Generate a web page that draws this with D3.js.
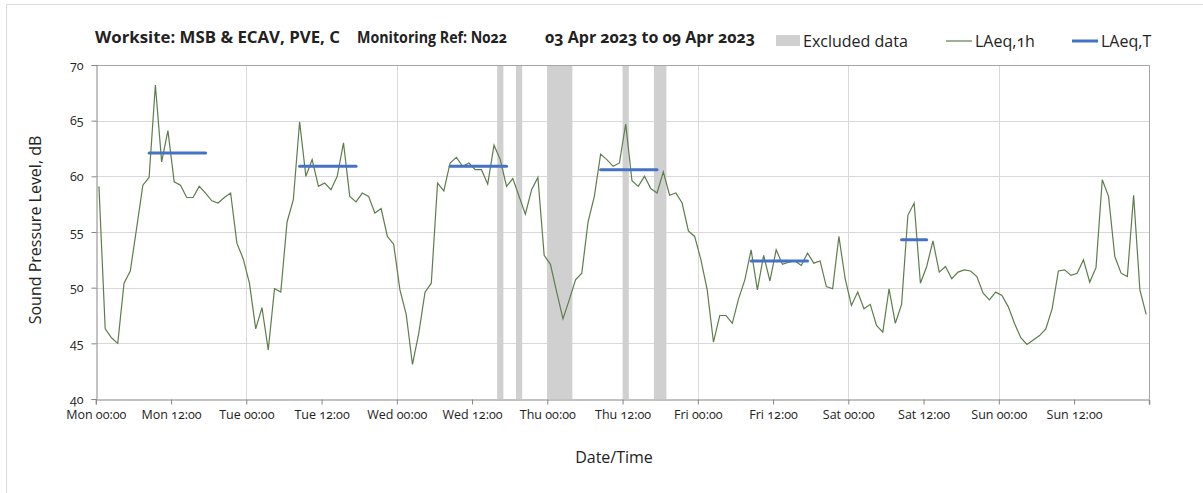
<!DOCTYPE html>
<html>
<head>
<meta charset="utf-8">
<script src="https://cdn.jsdelivr.net/npm/d3@7"></script>
<style>
  body { margin: 0; background: #fff; }
  svg text { font-family: "Open Sans", "Noto Sans", sans-serif; font-variant-numeric: oldstyle-nums; fill: #222; }
</style>
</head>
<body>
<div id="chart"></div>
<script>
// hourly LAeq,1h from Mon 00:00 (index = hour of week)
var laeq1h = [
  59.1, 46.3, 45.5, 45.0, 50.4, 51.5, 55.3, 59.2, 59.9, 68.2, 61.3, 64.1, 59.5, 59.2, 58.1, 58.1, 59.1, 58.5, 57.8, 57.6, 58.1, 58.5, 54.0, 52.6,
  50.4, 46.3, 48.2, 44.4, 49.9, 49.6, 55.9, 57.9, 64.9, 60.0, 61.5, 59.1, 59.4, 58.8, 60.0, 63.0, 58.2, 57.7, 58.5, 58.2, 56.7, 57.1, 54.6, 53.9,
  49.8, 47.6, 43.1, 45.9, 49.6, 50.4, 59.4, 58.7, 61.2, 61.7, 60.9, 61.2, 60.6, 60.6, 59.3, 62.8, 61.5, 59.1, 59.8, 58.2, 56.6, 58.8, 59.9, 52.9,
  52.1, 49.6, 47.2, 48.9, 50.7, 51.3, 55.9, 58.2, 62.0, 61.5, 60.9, 61.2, 64.7, 59.6, 59.1, 60.0, 58.9, 58.5, 60.4, 58.3, 58.5, 57.6, 55.1, 54.6,
  52.5, 49.8, 45.1, 47.5, 47.5, 46.8, 49.0, 50.7, 53.4, 49.8, 52.9, 50.6, 53.4, 52.1, 52.3, 52.4, 52.0, 53.1, 52.2, 52.4, 50.1, 49.9, 54.6, 50.8,
  48.4, 49.6, 48.1, 48.5, 46.6, 46.0, 49.9, 46.8, 48.5, 56.5, 57.6, 50.4, 51.9, 54.2, 51.4, 51.9, 50.8, 51.4, 51.6, 51.5, 51.0, 49.5, 48.9, 49.6,
  49.3, 48.3, 46.8, 45.5, 44.9, 45.3, 45.7, 46.3, 48.1, 51.5, 51.6, 51.1, 51.3, 52.5, 50.5, 51.8, 59.7, 58.2, 52.8, 51.3, 51.0, 58.3, 49.8, 47.6
];

// LAeq,T periods: first hour, last hour, level
var laeqTStart = [8, 32, 56, 80, 104, 128];
var laeqTEnd = [17, 41, 65, 89, 113, 132];
var laeqTValue = [62.1, 60.9, 60.9, 60.6, 52.4, 54.3];

// excluded data (hours)
var exclStart = [64, 67, 72, 84, 89];
var exclEnd = [65, 68, 76, 85, 91];

var dayNames = ["Mon", "Tue", "Wed", "Thu", "Fri", "Sat", "Sun"];
var tickHours = d3.range(0, 168, 12);
var yTicks = [40, 45, 50, 55, 60, 65, 70];
var titleParts = ["Worksite: MSB & ECAV, PVE, C", "Monitoring Ref: N022", "03 Apr 2023 to 09 Apr 2023"];

var svgWidth = 1203;
var svgHeight = 493;

var svg = d3.select("#chart")
  .append("svg")
  .attr("width", svgWidth)
  .attr("height", svgHeight);

// outer chart frame
svg.append("path")
  .attr("d", "M6.5," + svgHeight + "V4.5H" + svgWidth)
  .attr("fill", "none")
  .attr("stroke", "#d9d9d9");

var x = d3.scaleLinear().domain([0, 168]).range([95.8, 1149.3]);
var y = d3.scaleLinear().domain([40, 70]).range([399, 65]);

// gridlines
svg.append("g")
  .selectAll("line")
  .data([45, 50, 55, 60, 65])
  .enter()
  .append("line")
  .attr("x1", x(0)).attr("x2", x(168))
  .attr("y1", d => Math.round(y(d)) + 0.5)
  .attr("y2", d => Math.round(y(d)) + 0.5)
  .attr("stroke", "#d9d9d9");

svg.append("g")
  .selectAll("line")
  .data(d3.range(24, 168, 24))
  .enter()
  .append("line")
  .attr("x1", d => Math.round(x(d)) + 0.5)
  .attr("x2", d => Math.round(x(d)) + 0.5)
  .attr("y1", y(70)).attr("y2", y(40))
  .attr("stroke", "#d9d9d9");

// excluded data bars
svg.append("g")
  .selectAll("rect")
  .data(exclStart)
  .enter()
  .append("rect")
  .attr("x", d => x(d))
  .attr("width", (d, i) => x(exclEnd[i]) - x(d))
  .attr("y", y(70))
  .attr("height", y(40) - y(70))
  .attr("fill", "#d0d0d0");

// plot border top/right
svg.append("path")
  .attr("d", "M" + x(0) + "," + (Math.round(y(70)) + 0.5) + "H" + (Math.round(x(168)) + 0.5) + "V" + y(40))
  .attr("fill", "none")
  .attr("stroke", "#a6a6a6");

// axes
var bottomAxis = d3.axisBottom(x)
  .tickValues(tickHours)
  .tickSize(5)
  .tickPadding(6)
  .tickFormat(d => dayNames[Math.floor(d / 24)] + " " + (d % 24 === 0 ? "00:00" : "12:00"));

var xAxis = svg.append("g")
  .attr("transform", "translate(0," + (Math.round(y(40)) + 0.5) + ")")
  .call(bottomAxis);
// extra tick at the end
xAxis.append("line").attr("x1", x(168)).attr("x2", x(168)).attr("y1", 0).attr("y2", 5).attr("stroke", "#868686");

var leftAxis = d3.axisLeft(y)
  .tickValues(yTicks)
  .tickSize(5)
  .tickPadding(8);

var yAxis = svg.append("g")
  .attr("transform", "translate(" + (Math.round(x(0)) + 0.5) + ",0)")
  .call(leftAxis);

svg.selectAll(".domain").attr("stroke", "#868686");
svg.selectAll(".tick line").attr("stroke", "#868686");
svg.selectAll(".tick text").style("font-size", "12.5px").attr("fill", "#333");

// LAeq,1h line
var line = d3.line()
  .x((d, i) => x(i + 0.5))
  .y(d => y(d));

svg.append("path")
  .datum(laeq1h)
  .attr("d", line)
  .attr("fill", "none")
  .attr("stroke", "#5e7d4c")
  .attr("stroke-width", 1.2);

// LAeq,T segments
svg.append("g")
  .selectAll("line")
  .data(laeqTValue)
  .enter()
  .append("line")
  .attr("x1", (d, i) => x(laeqTStart[i] + 0.5))
  .attr("x2", (d, i) => x(laeqTEnd[i] + 0.5))
  .attr("y1", d => y(d))
  .attr("y2", d => y(d))
  .attr("stroke", "#4472c4")
  .attr("stroke-width", 3)
  .attr("stroke-linecap", "round");

// title, in three pieces like the original spacing
var titleX = [95, 357, 545];
var titleW = [245, 150, 210];
svg.append("g")
  .selectAll("text")
  .data(titleParts)
  .enter()
  .append("text")
  .attr("x", (d, i) => titleX[i])
  .attr("y", 43)
  .style("font-size", "16px")
  .style("font-weight", "bold")
  .attr("textLength", (d, i) => titleW[i])
  .attr("lengthAdjust", "spacingAndGlyphs")
  .text(d => d);

// legend
svg.append("rect").attr("x", 776).attr("y", 35).attr("width", 24).attr("height", 11).attr("fill", "#d0d0d0");
svg.append("text").attr("x", 803).attr("y", 47).style("font-size", "16px").text("Excluded data");
svg.append("line").attr("x1", 946).attr("x2", 972).attr("y1", 41).attr("y2", 41)
  .attr("stroke", "#5e7d4c").attr("stroke-width", 1.2);
svg.append("text").attr("x", 975).attr("y", 47).style("font-size", "16px").text("LAeq,1h");
svg.append("line").attr("x1", 1072).attr("x2", 1098).attr("y1", 41).attr("y2", 41)
  .attr("stroke", "#4472c4").attr("stroke-width", 3);
svg.append("text").attr("x", 1101).attr("y", 47).style("font-size", "16px").text("LAeq,T");

// axis titles
svg.append("text")
  .attr("transform", "translate(41,230) rotate(-90)")
  .attr("text-anchor", "middle")
  .style("font-size", "16px")
  .text("Sound Pressure Level, dB");

svg.append("text")
  .attr("x", 614)
  .attr("y", 463)
  .attr("text-anchor", "middle")
  .style("font-size", "16px")
  .text("Date/Time");
</script>
</body>
</html>
